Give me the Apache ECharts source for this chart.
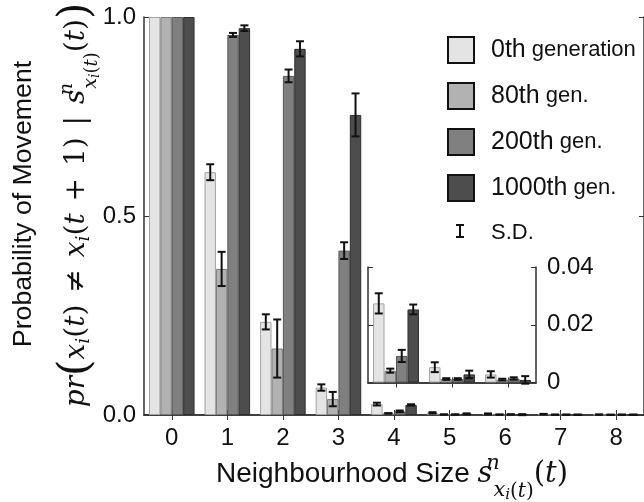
<!DOCTYPE html>
<html>
<head>
<meta charset="utf-8">
<script src="https://cdn.jsdelivr.net/npm/echarts@6/dist/echarts.min.js"></script>
<style>
html,body{margin:0;padding:0;background:#fff;}
#chart{width:644px;height:502px;}
</style>
</head>
<body>
<div id="chart"></div>
<script>
// ---- data ----
const categories = ['0','1','2','3','4','5','6','7','8'];
const insetCategories = ['4','5','6'];
const seriesNames = ['0th generation','80th gen.','200th gen.','1000th gen.'];
const gen0    = [1.0, 0.610, 0.234, 0.069, 0.0274, 0.0053, 0.0028, 0.0020, 0.0010];
const gen80   = [1.0, 0.367, 0.167, 0.040, 0.0041, 0.0012, 0.0010, 0.0008, 0.0006];
const gen200  = [1.0, 0.955, 0.852, 0.413, 0.0092, 0.0012, 0.0014, 0.0008, 0.0008];
const gen1000 = [1.0, 0.972, 0.920, 0.754, 0.0253, 0.0028, 0.0009, 0.0008, 0.0008];
const sd0     = [0, 0.020, 0.019, 0.008, 0.0035, 0.0017, 0.0011, 0.0008, 0.0005];
const sd80    = [0, 0.043, 0.073, 0.018, 0.0007, 0.0003, 0.0003, 0.0003, 0.0003];
const sd200   = [0, 0.005, 0.016, 0.021, 0.0021, 0.0003, 0.0004, 0.0003, 0.0003];
const sd1000  = [0, 0.007, 0.019, 0.054, 0.0017, 0.0013, 0.0013, 0.0003, 0.0003];
const mainTickLabels = ['0.0','0.5','1.0'];
const insetTickLabels = ['0','0.02','0.04'];
const insetStart = 4;

// ---- styles ----
const fills   = ['#e4e4e4','#b2b2b2','#808080','#4d4d4d'];
const borders = ['#a3a3a3','#7c7c7c','#575757','#2e2e2e'];
const means = [gen0, gen80, gen200, gen1000];
const sds = [sd0, sd80, sd200, sd1000];
const SANS = 'Liberation Sans';
const SERIF = '"DejaVu Serif"';
const TXT = '#111';
const CAT_GAP = 0.18;

function errRender(params, api) {
  const cat = api.value(0), val = api.value(1), g = api.value(2), sd = api.value(3);
  const band = api.size([1, 0])[0];
  const bw = band * (1 - CAT_GAP) / 4;
  const cx = api.coord([cat, val])[0] + (g - 1.5) * bw;
  const yTop = api.coord([cat, val + sd])[1];
  const yBot = api.coord([cat, val - sd])[1];
  const cap = 4;
  const st = {stroke: '#111', lineWidth: 2};
  return {type: 'group', children: [
    {type: 'line', shape: {x1: cx, y1: yTop, x2: cx, y2: yBot}, style: st},
    {type: 'line', shape: {x1: cx - cap, y1: yTop, x2: cx + cap, y2: yTop}, style: st},
    {type: 'line', shape: {x1: cx - cap, y1: yBot, x2: cx + cap, y2: yBot}, style: st}
  ]};
}

function errData(from, to) {
  const out = [];
  for (let c = from; c < to; c++) {
    for (let g = 0; g < 4; g++) {
      if (sds[g][c] > 0) out.push([c - from, means[g][c], g, sds[g][c]]);
    }
  }
  return out;
}

const series = [];
seriesNames.forEach((name, g) => {
  series.push({
    name, type: 'bar', xAxisIndex: 0, yAxisIndex: 0,
    data: means[g], barGap: '0%', barCategoryGap: (CAT_GAP * 100) + '%',
    itemStyle: {color: fills[g], borderColor: borders[g], borderWidth: 1},
    z: 2
  });
});
seriesNames.forEach((name, g) => {
  series.push({
    name, type: 'bar', xAxisIndex: 2, yAxisIndex: 2,
    data: means[g].slice(insetStart, insetStart + insetCategories.length),
    barGap: '0%', barCategoryGap: (CAT_GAP * 100) + '%',
    itemStyle: {color: fills[g], borderColor: borders[g], borderWidth: 1},
    z: 2
  });
});
series.push({
  name: 'S.D.', type: 'custom', xAxisIndex: 0, yAxisIndex: 0,
  renderItem: errRender, data: errData(0, categories.length),
  encode: {x: 0, y: 1}, itemStyle: {color: '#111'}, z: 4
});
series.push({
  name: 'S.D.', type: 'custom', xAxisIndex: 2, yAxisIndex: 2,
  renderItem: errRender, data: errData(insetStart, insetStart + insetCategories.length),
  encode: {x: 0, y: 1}, itemStyle: {color: '#111'}, z: 4
});

const axisLineStyle = {color: '#333', width: 1.5};
const tickStyle = {color: '#333', width: 1};

function catAxis(gridIndex, data, position, showLabel) {
  return {
    type: 'category', gridIndex, data, position,
    axisLine: {show: true, lineStyle: axisLineStyle},
    axisTick: {show: true, inside: true, alignWithLabel: true, length: 5, lineStyle: tickStyle},
    axisLabel: {show: showLabel, fontSize: 24, fontFamily: SANS, color: TXT, margin: 11},
    splitLine: {show: false}
  };
}
function valAxis(gridIndex, position, max, interval, labels, showLabel, margin) {
  return {
    type: 'value', gridIndex, position, min: 0, max, interval,
    axisLine: {show: true, lineStyle: axisLineStyle},
    axisTick: {show: true, inside: true, length: 5, lineStyle: tickStyle},
    axisLabel: {show: showLabel, fontSize: 24, fontFamily: SANS, color: TXT, margin,
      formatter: v => labels[Math.round(v / interval)]},
    splitLine: {show: false}
  };
}

// rich text for math; all tokens centred on the line, shifted by vertical padding
function makeRich(main, sub, subsub, big, sans, subShift) {
  const f = (size, italic) => (italic ? 'italic ' : '') + size + 'px ' + SERIF;
  // shift s px (positive = down): padding top 2s or bottom -2s
  const pad = s => s >= 0 ? [2 * s, 0, 0, 0] : [0, 0, -2 * s, 0];
  const tok = (font, s, extra) => Object.assign({font, verticalAlign: 'middle', fill: TXT, padding: pad(s)}, extra || {});
  return {
    a:  tok(f(main, true), 0),
    r:  tok(f(main, false), 0),
    op: {font: f(main, false), verticalAlign: 'middle', fill: TXT, padding: [0, 3, 0, 3]},
    bg: tok(f(big, false), 0),
    sb: tok(f(sub, true), 7),
    sp: tok(f(sub, true), -10, {width: 1}),
    sx: tok(f(sub, true), 14 + subShift),
    ss: tok(f(subsub, true), 18 + subShift),
    sr: tok(f(sub - 1, false), 15 + subShift),
    si: tok(f(sub - 1, true), 15 + subShift),
    t:  tok(sans + 'px ' + SANS, 0)
  };
}
const yRich = makeRich(28, 19, 14, 42, 27, 0);
const xRich = makeRich(29, 21, 15, 42, 28, 3);
const sNotation = '{a|s}{sp|n}{sx|x}{ss|i}{sr|(}{si|t}{sr|)}{r|(}{a|t}{r|)}';
const yMath = '{a|pr}{bg|(}{a|x}{sb|i}{r|(}{a|t}{r|)}{op| ≠ }{a|x}{sb|i}{r|(}{a|t}{op| + }{r|1)}{op| | }' + sNotation + '{bg|)}';
const xTitle = '{t|Neighbourhood Size }' + sNotation;

const legendIconSD = 'path://M0,0h0.01v0.01h-0.01z M25.99,25.99h0.01v0.01h-0.01z M8,4H16V6H13V16H16V18H8V16H11V6H8Z';

const option = {
  animation: false,
  backgroundColor: '#fff',
  grid: [
    {left: 144, top: 17, width: 504, height: 398, show: false},
    {left: 368, top: 267, width: 168, height: 115.5, show: false}
  ],
  xAxis: [
    catAxis(0, categories, 'bottom', true),
    catAxis(0, categories, 'top', false),
    catAxis(1, insetCategories, 'bottom', false),
    catAxis(1, insetCategories, 'top', false)
  ],
  yAxis: [
    valAxis(0, 'left', 1, 0.5, mainTickLabels, true, 8),
    valAxis(0, 'right', 1, 0.5, mainTickLabels, false, 8),
    valAxis(1, 'left', 0.04, 0.02, insetTickLabels, false, 11),
    valAxis(1, 'right', 0.04, 0.02, insetTickLabels, true, 11)
  ],
  legend: {
    orient: 'vertical', left: 447, top: 36, padding: 0,
    itemWidth: 26, itemHeight: 26, itemGap: 18,
    selectedMode: false,
    data: seriesNames.map((n, g) => ({name: n, icon: 'rect',
      itemStyle: {color: fills[g], borderColor: '#111', borderWidth: 2}}))
      .concat([{name: 'S.D.', icon: legendIconSD, itemStyle: {color: '#111', borderWidth: 0}}]),
    formatter: name => {
      const m = name.match(/^(\d+th)(.*)$/);
      if (m) return '{pad| }{num|' + m[1] + '}{w|' + m[2] + '}';
      return '{pad| }{w|' + name + '}';
    },
    textStyle: {
      color: TXT, fontFamily: SANS, lineHeight: 26,
      rich: {
        pad: {width: 12, lineHeight: 26},
        num: {fontSize: 25, fontFamily: SANS, color: TXT, lineHeight: 26},
        w: {fontSize: 22, fontFamily: SANS, color: TXT, lineHeight: 26}
      }
    }
  },
  graphic: [
    {type: 'text', x: 24, y: 204, rotation: Math.PI / 2, silent: true,
     style: {text: 'Probability of Movement', fontFamily: SANS, fontSize: 26.7, fill: TXT,
             align: 'center', verticalAlign: 'middle'}},
    {type: 'text', x: 77, y: 205, rotation: Math.PI / 2, silent: true,
     style: {text: yMath, rich: yRich, fill: TXT, align: 'center', verticalAlign: 'middle'}},
    {type: 'text', x: 392, y: 474, silent: true,
     style: {text: xTitle, rich: xRich, fill: TXT, align: 'center', verticalAlign: 'middle'}}
  ],
  series
};

const chart = echarts.init(document.getElementById('chart'), null, {renderer: 'canvas'});
chart.setOption(option);
</script>
</body>
</html>
